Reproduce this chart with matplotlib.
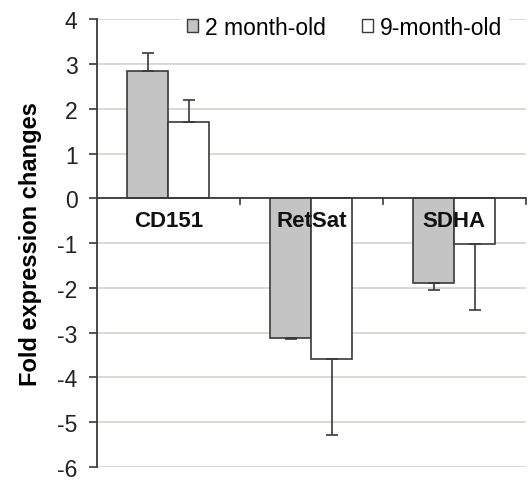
import matplotlib
matplotlib.use("Agg")
import matplotlib.pyplot as plt
import numpy as np
from matplotlib.patches import Patch

categories = ["CD151", "RetSat", "SDHA"]
series = ["2 month-old", "9-month-old"]
vals_2m = [2.85, -3.12, -1.88]
err_2m = [0.40, 0.02, 0.17]
vals_9m = [1.70, -3.58, -1.02]
err_9m = [0.50, 1.70, 1.48]
yticks = [4, 3, 2, 1, 0, -1, -2, -3, -4, -5, -6]

plt.rcParams['font.family'] = ['Liberation Sans', 'DejaVu Sans']

fig = plt.figure(figsize=(5.3, 4.81), dpi=100)
ax = fig.add_axes([0.183, 0.027, 0.809, 0.931])

x = np.arange(len(categories))
w = 0.287
cols = ['#c4c4c4', '#ffffff']
edge = '#3a3a3a'

for i, (vals, errs) in enumerate([(vals_2m, err_2m), (vals_9m, err_9m)]):
    pos = x + (i - 0.5) * w
    ax.bar(pos, vals, width=w, color=cols[i], edgecolor=edge, linewidth=1.2, zorder=3)
    lower = [e if v < 0 else 0 for v, e in zip(vals, errs)]
    upper = [e if v >= 0 else 0 for v, e in zip(vals, errs)]
    ax.errorbar(pos, vals, yerr=[lower, upper], fmt='none', ecolor=edge,
                elinewidth=1.2, capsize=4, capthick=1.2, zorder=4)

ax.set_xlim(-0.5, 2.5)
ax.set_ylim(-6, 4)
ax.set_yticks(yticks)
ax.set_yticklabels([str(t) for t in yticks], fontsize=16.5, color='#222222')
ax.set_xticks([])
ax.grid(axis='y', color='#d9cfc8', linewidth=1.2, zorder=0)
ax.set_axisbelow(True)

for s in ['top', 'right', 'bottom']:
    ax.spines[s].set_visible(False)
ax.spines['left'].set_color(edge)
ax.spines['left'].set_linewidth(1.3)
ax.tick_params(axis='y', length=6, width=1.2, color=edge, pad=8)

# zero axis line with category boundary ticks
ax.axhline(0, color=edge, linewidth=1.3, zorder=5)
for b in [0.5, 1.5, 2.5]:
    ax.plot([b, b], [0, -0.12], color=edge, linewidth=1.2, zorder=5, clip_on=False)

for xi, c in zip(x, categories):
    ax.text(xi, -0.27, c, ha='center', va='top', fontsize=16, fontweight='bold',
            color='#111111', zorder=6)

ax.set_ylabel("Fold expression changes", fontsize=17, fontweight='bold', labelpad=11)

handles = [Patch(facecolor=cols[0], edgecolor=edge, linewidth=1.0),
           Patch(facecolor=cols[1], edgecolor=edge, linewidth=1.0)]
leg = ax.legend(handles, series, loc='center left', bbox_to_anchor=(0.195, 0.982), ncol=2,
                frameon=True, fontsize=16.5, handlelength=0.45, handleheight=0.45,
                handletextpad=0.3, columnspacing=1.6, borderaxespad=0, borderpad=0.3)
leg.get_frame().set_facecolor('white')
leg.get_frame().set_edgecolor('none')
leg.get_frame().set_alpha(1)
leg.set_zorder(10)

fig.savefig("out.png", dpi=100)
